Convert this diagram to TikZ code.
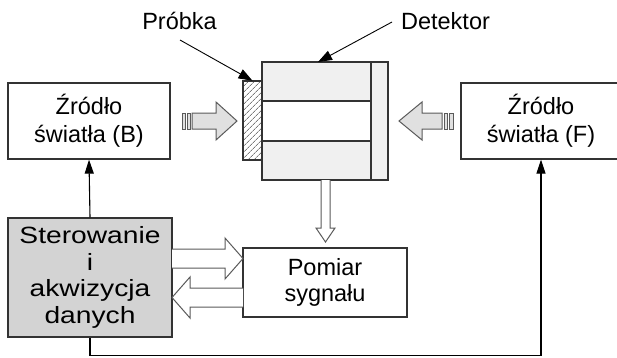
\documentclass[tikz,border=0pt]{standalone}
\usepackage{fontspec}
\setmainfont{Liberation Sans}
\newfontfamily\widesans[FakeStretch=1.2]{Liberation Sans}
\usetikzlibrary{arrows.meta,patterns.meta}

\definecolor{boxline}{HTML}{333333}
\definecolor{shade}{HTML}{D3D3D3}
\definecolor{pale}{HTML}{F0F0F0}
\definecolor{beam}{HTML}{E0E0E0}
\definecolor{outline}{HTML}{5A5A5A}

\begin{document}
\begin{tikzpicture}[x=1pt,y=-1pt,
  box/.style={draw=boxline, line width=1.3pt, fill=white, inner sep=0pt,
    align=center, font=\fontsize{23.5}{28}\selectfont},
  conn/.style={draw=black, line width=1.1pt, -{Triangle[length=14pt,width=9pt]}},
  lead/.style={draw=black, line width=0.9pt, -{Triangle[length=14pt,width=10pt]}},
  label/.style={font=\fontsize{23.5}{28}\selectfont, inner sep=0pt},
  hollow/.style={draw=outline, line width=1pt, fill=white},
  graybeam/.style={draw=outline, line width=1pt, fill=beam},
]
\useasboundingbox (0,0) rectangle (617,357);

% boxes
\node[box, minimum width=162pt, minimum height=76pt] (srcB) at (89,121)
  {Źródło\\światła (B)};
\node[box, minimum width=160pt, minimum height=76pt] (srcF) at (541,121)
  {Źródło\\światła (F)};
\node[box, fill=shade, minimum width=164pt, minimum height=119pt,
  font=\widesans\fontsize{23.5}{26.5}\selectfont] (ster) at (90,277.5)
  {Sterowanie\\i\\akwizycja\\danych};
\node[box, minimum width=164pt, minimum height=69pt,
  font=\fontsize{23.5}{26}\selectfont] (pom) at (325,282.5)
  {Pomiar\\sygnału};

% detector with its three cells and side strip
\node[draw=boxline, line width=1.3pt, fill=pale, minimum width=126pt,
  minimum height=118pt, inner sep=0pt] (det) at (325,121) {};
\fill[white] (262,101) rectangle (371,141);
\draw[boxline, line width=1.1pt] (262,101) -- (371,101)
  (262,141) -- (371,141) (371,62) -- (371,180);
\draw[boxline, line width=1.3pt] (det.north west) rectangle (det.south east);

% hatched sample in front of the detector
\node[draw=boxline, line width=1.1pt, minimum width=19pt, minimum height=79pt,
  inner sep=0pt, pattern={Lines[angle=45,distance=4pt,line width=0.6pt]},
  pattern color=boxline] (sample) at (252.5,120.5) {};

% labels with leader arrows
\node[label, anchor=base] (plabel) at (179.5,29) {Próbka};
\node[label, anchor=base] (dlabel) at (445.5,29) {Detektor};
\coordinate (ptail) at (180,40);
\coordinate (dtail) at (392,22);
\coordinate (dtip) at (318,62);
\draw[lead] (ptail) -- (sample.north);
\draw[lead] (dtail) -- (dtip);

% light beams from both sources
\draw[graybeam] (182,113) rectangle (185,129);
\draw[graybeam] (187,113) rectangle (190,129);
\draw[graybeam] (192,113) -- (216,113) -- (216,102) -- (237,121)
  -- (216,140) -- (216,129) -- (192,129) -- cycle;
\draw[graybeam] (449,113) rectangle (453,129);
\draw[graybeam] (444,113) rectangle (447,129);
\draw[graybeam] (442,113) -- (422,113) -- (422,102) -- (399,121)
  -- (422,140) -- (422,129) -- (442,129) -- cycle;

% signal path from detector to measurement
\draw[hollow] (321,180) -- (321,228) -- (316,228) -- (325.5,242)
  -- (335,228) -- (330,228) -- (330,180);

% data exchange between control unit and measurement
\draw[hollow] (172,249) -- (225,249) -- (225,238) -- (243,258.5)
  -- (225,279) -- (225,268) -- (172,268);
\draw[hollow] (243,288) -- (190,288) -- (190,277) -- (172,297.5)
  -- (190,318) -- (190,307) -- (243,307);

% control lines to the two sources
\draw[conn] (ster.north) -- (srcB.south);
\draw[conn] (ster.south) -- ++(0,18) -| (srcF.south);
\end{tikzpicture}
\end{document}
